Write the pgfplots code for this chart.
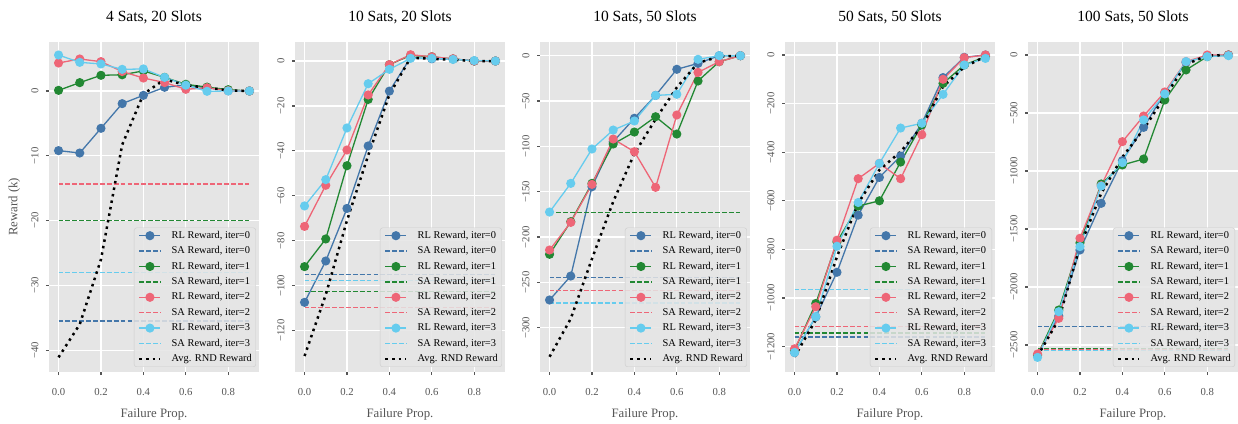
\documentclass[border=0pt]{standalone}
\usepackage{fontspec}
\setmainfont{Liberation Serif}
\usepackage{pgfplots}
\pgfplotsset{compat=1.18}
\definecolor{cA}{HTML}{4477AA}
\definecolor{cB}{HTML}{228833}
\definecolor{cC}{HTML}{EE6677}
\definecolor{cD}{HTML}{66CCEE}
\definecolor{bgc}{HTML}{E5E5E5}
\definecolor{tkc}{HTML}{555555}
\definecolor{lgb}{HTML}{CCCCCC}
\pgfplotsset{
 panel/.style={
  scale only axis, width=210bp, height=330bp,
  anchor=south west,
  xmin=-0.045, xmax=0.945,
  axis background/.style={fill=bgc},
  axis line style={draw=none},
  xmajorgrids, ymajorgrids,
  major grid style={white, line width=1.3bp},
  tick align=outside, major tick length=3bp,
  xtick pos=bottom, ytick pos=left,
  every tick/.style={tkc, line width=1.2bp},
  xtick={0,0.2,0.4,0.6,0.8}, xticklabels={0.0,0.2,0.4,0.6,0.8},
  tick label style={font=\fontsize{10.7bp}{12bp}\selectfont, text=tkc, inner sep=0pt},
  xticklabel shift=13bp,
  yticklabel style={rotate=90, anchor=south},
  yticklabel shift=7.4bp,
  title style={at={(axis description cs:0.5,1)}, anchor=base, yshift=15bp, font=\fontsize{15.5bp}{18bp}\selectfont, inner sep=0pt},
  xlabel={Failure Prop.},
  xlabel style={at={(axis description cs:0.5,0)}, anchor=base, yshift=-45bp, font=\fontsize{12.8bp}{15bp}\selectfont, text=tkc, inner sep=0pt},
  ylabel style={at={(axis description cs:-0.165,0.5)}, anchor=center, font=\fontsize{12.8bp}{15bp}\selectfont, text=tkc, inner sep=0pt},
  legend style={at={(axis description cs:1,0)}, anchor=south east, xshift=-3bp, yshift=5bp,
    fill=bgc, fill opacity=0.85, text opacity=1, draw=lgb, draw opacity=1, rounded corners=2.5bp,
    font=\fontsize{10.4bp}{12bp}\selectfont, inner xsep=4bp, inner ysep=3bp, row sep=5.6bp,
    nodes={inner sep=0pt, text height=7.4bp, text depth=2.4bp},
    /tikz/column 1/.style={column sep=10bp}},
  legend cell align=left,
  legend image code/.code={\draw[mark repeat=2, mark phase=2, fill opacity=1, draw opacity=1, #1] plot coordinates {(0bp,0bp) (10.5bp,0bp) (21bp,0bp)};},
 },
 rl/.style={solid, line width=1.3bp, mark=*, mark size=3.9bp, mark options={solid}},
 sa/.style={line width=1.3bp, dash pattern=on 4.8bp off 2.1bp},
 rnd/.style={black, line width=2.5bp, dash pattern=on 2.5bp off 4.1bp},
}
\begin{document}
\begin{tikzpicture}
\useasboundingbox (0,0) rectangle (1238bp,424bp);
% ---------- Panel 1
\begin{axis}[panel, at={(49bp,52bp)}, title={4 Sats, 20 Slots}, ylabel={Reward (k)},
  ymin=-43.36, ymax=7.56, ytick={-40,-30,-20,-10,0}, yticklabels={−40,−30,−20,−10,0}]
\addplot[rl, cA] coordinates {(0,-9.2)(0.1,-9.57)(0.2,-5.76)(0.3,-1.95)(0.4,-0.67)(0.5,0.57)(0.6,0.93)(0.7,0.5)(0.8,0.05)(0.9,0)};
\addlegendentry{RL Reward, iter=0}
\addplot[sa, cA] coordinates {(0,-35.5)(0.9,-35.5)};
\addlegendentry{SA Reward, iter=0}
\addplot[rl, cB] coordinates {(0,0.1)(0.1,1.29)(0.2,2.42)(0.3,2.5)(0.4,3.1)(0.5,2.1)(0.6,1.03)(0.7,0.6)(0.8,0.2)(0.9,0)};
\addlegendentry{RL Reward, iter=1}
\addplot[sa, cB] coordinates {(0,-20.0)(0.9,-20.0)};
\addlegendentry{SA Reward, iter=1}
\addplot[rl, cC] coordinates {(0,4.32)(0.1,4.94)(0.2,4.53)(0.3,3.0)(0.4,2.0)(0.5,1.3)(0.6,0.26)(0.7,0.5)(0.8,0.05)(0.9,0)};
\addlegendentry{RL Reward, iter=2}
\addplot[sa, cC] coordinates {(0,-14.35)(0.9,-14.35)};
\addlegendentry{SA Reward, iter=2}
\addplot[rl, cD] coordinates {(0,5.55)(0.1,4.42)(0.2,4.17)(0.3,3.34)(0.4,3.4)(0.5,2.1)(0.6,0.9)(0.7,-0.05)(0.8,0)(0.9,0)};
\addlegendentry{RL Reward, iter=3}
\addplot[sa, cD] coordinates {(0,-28.0)(0.9,-28.0)};
\addlegendentry{SA Reward, iter=3}
\addplot[rnd] coordinates {(0,-41.1)(0.1,-36)(0.2,-26)(0.3,-8.3)(0.4,-0.5)(0.5,1.8)(0.6,0.9)(0.7,0.5)(0.8,0.1)(0.9,0)};
\addlegendentry{Avg. RND Reward}
\end{axis}
% ---------- Panel 2
\begin{axis}[panel, at={(295bp,52bp)}, title={10 Sats, 20 Slots},
  ymin=-138.4, ymax=8.46, ytick={-120,-100,-80,-60,-40,-20,0}, yticklabels={−120,−100,−80,−60,−40,−20,0}]
\addplot[rl, cA] coordinates {(0,-107.4)(0.1,-89)(0.2,-65.6)(0.3,-37.8)(0.4,-13.4)(0.5,1.5)(0.6,1.0)(0.7,0.9)(0.8,0)(0.9,0)};
\addlegendentry{RL Reward, iter=0}
\addplot[sa, cA] coordinates {(0,-95)(0.9,-95)};
\addlegendentry{SA Reward, iter=0}
\addplot[rl, cB] coordinates {(0,-91.5)(0.1,-79.2)(0.2,-46.6)(0.3,-17.1)(0.4,-1.6)(0.5,2.5)(0.6,1.9)(0.7,0.9)(0.8,0)(0.9,0)};
\addlegendentry{RL Reward, iter=1}
\addplot[sa, cB] coordinates {(0,-102.7)(0.9,-102.7)};
\addlegendentry{SA Reward, iter=1}
\addplot[rl, cC] coordinates {(0,-73.6)(0.1,-55.3)(0.2,-39.6)(0.3,-15.1)(0.4,-1.6)(0.5,2.8)(0.6,1.9)(0.7,1.0)(0.8,0)(0.9,0)};
\addlegendentry{RL Reward, iter=2}
\addplot[sa, cC] coordinates {(0,-109.8)(0.9,-109.8)};
\addlegendentry{SA Reward, iter=2}
\addplot[rl, cD] coordinates {(0,-64.5)(0.1,-52.8)(0.2,-29.8)(0.3,-10.1)(0.4,-3.7)(0.5,1.2)(0.6,1.2)(0.7,0.7)(0.8,0.2)(0.9,0)};
\addlegendentry{RL Reward, iter=3}
\addplot[sa, cD] coordinates {(0,-97.8)(0.9,-97.8)};
\addlegendentry{SA Reward, iter=3}
\addplot[rnd] coordinates {(0,-131.3)(0.1,-104)(0.2,-71)(0.3,-42)(0.4,-15)(0.5,1.5)(0.6,1)(0.7,0.5)(0.8,0)(0.9,0)};
\addlegendentry{Avg. RND Reward}
\end{axis}
% ---------- Panel 3
\begin{axis}[panel, at={(540bp,52bp)}, title={10 Sats, 50 Slots},
  ymin=-348.8, ymax=15.1, ytick={-300,-250,-200,-150,-100,-50,0}, yticklabels={−300,−250,−200,−150,−100,−50,0}]
\addplot[rl, cA] coordinates {(0,-269.4)(0.1,-243)(0.2,-144.5)(0.3,-94.9)(0.4,-69)(0.5,-43.8)(0.6,-15)(0.7,-8.5)(0.8,0)(0.9,0)};
\addlegendentry{RL Reward, iter=0}
\addplot[sa, cA] coordinates {(0,-244.8)(0.9,-244.8)};
\addlegendentry{SA Reward, iter=0}
\addplot[rl, cB] coordinates {(0,-219)(0.1,-183)(0.2,-140.8)(0.3,-97.4)(0.4,-84.2)(0.5,-67.3)(0.6,-86.4)(0.7,-27.9)(0.8,-6.6)(0.9,0)};
\addlegendentry{RL Reward, iter=1}
\addplot[sa, cB] coordinates {(0,-173)(0.9,-173)};
\addlegendentry{SA Reward, iter=1}
\addplot[rl, cC] coordinates {(0,-214.3)(0.1,-183.8)(0.2,-141.9)(0.3,-91.9)(0.4,-105.9)(0.5,-145.2)(0.6,-65.4)(0.7,-18.4)(0.8,-6.6)(0.9,0)};
\addlegendentry{RL Reward, iter=2}
\addplot[sa, cC] coordinates {(0,-258.8)(0.9,-258.8)};
\addlegendentry{SA Reward, iter=2}
\addplot[rl, cD] coordinates {(0,-172.4)(0.1,-140.8)(0.2,-102.9)(0.3,-82)(0.4,-72)(0.5,-43.8)(0.6,-42.6)(0.7,-4)(0.8,0)(0.9,0)};
\addlegendentry{RL Reward, iter=3}
\addplot[sa, cD] coordinates {(0,-272.8)(0.9,-272.8)};
\addlegendentry{SA Reward, iter=3}
\addplot[rnd] coordinates {(0,-332)(0.1,-290)(0.2,-224)(0.3,-161)(0.4,-108)(0.5,-70)(0.6,-35)(0.7,-8)(0.8,-1)(0.9,0)};
\addlegendentry{Avg. RND Reward}
\end{axis}
% ---------- Panel 4
\begin{axis}[panel, at={(785bp,52bp)}, title={50 Sats, 50 Slots},
  ymin=-1304.5, ymax=53.5, ytick={-1200,-1000,-800,-600,-400,-200,0}, yticklabels={−1200,−1000,−800,−600,−400,−200,0}]
\addplot[rl, cA] coordinates {(0,-1224.5)(0.1,-1077.6)(0.2,-894)(0.3,-659)(0.4,-503.8)(0.5,-416)(0.6,-281)(0.7,-93)(0.8,-9.6)(0.9,0)};
\addlegendentry{RL Reward, iter=0}
\addplot[sa, cA] coordinates {(0,-1160)(0.9,-1160)};
\addlegendentry{SA Reward, iter=0}
\addplot[rl, cB] coordinates {(0,-1215)(0.1,-1022.6)(0.2,-769)(0.3,-621.8)(0.4,-600)(0.5,-440.6)(0.6,-288)(0.7,-116.7)(0.8,-41)(0.9,-7)};
\addlegendentry{RL Reward, iter=1}
\addplot[sa, cB] coordinates {(0,-1143.5)(0.9,-1143.5)};
\addlegendentry{SA Reward, iter=1}
\addplot[rl, cC] coordinates {(0,-1209)(0.1,-1036)(0.2,-762)(0.3,-509)(0.4,-446)(0.5,-509)(0.6,-328)(0.7,-100)(0.8,-11)(0.9,0)};
\addlegendentry{RL Reward, iter=2}
\addplot[sa, cC] coordinates {(0,-1116)(0.9,-1116)};
\addlegendentry{SA Reward, iter=2}
\addplot[rl, cD] coordinates {(0,-1224)(0.1,-1077)(0.2,-787)(0.3,-607)(0.4,-446)(0.5,-300.6)(0.6,-281)(0.7,-162)(0.8,-41)(0.9,-14)};
\addlegendentry{RL Reward, iter=3}
\addplot[sa, cD] coordinates {(0,-965)(0.9,-965)};
\addlegendentry{SA Reward, iter=3}
\addplot[rnd] coordinates {(0,-1242)(0.1,-1090)(0.2,-830)(0.3,-610)(0.4,-473)(0.5,-398)(0.6,-295)(0.7,-130)(0.8,-50)(0.9,-5)};
\addlegendentry{Avg. RND Reward}
\end{axis}
% ---------- Panel 5
\begin{axis}[panel, at={(1028bp,52bp)}, title={100 Sats, 50 Slots},
  ymin=-2733, ymax=112, ytick={-2500,-2000,-1500,-1000,-500,0}, yticklabels={−2500,−2000,−1500,−1000,−500,0}]
\addplot[rl, cA] coordinates {(0,-2587)(0.1,-2250)(0.2,-1681)(0.3,-1279)(0.4,-911)(0.5,-624)(0.6,-325)(0.7,-66)(0.8,-6)(0.9,0)};
\addlegendentry{RL Reward, iter=0}
\addplot[sa, cA] coordinates {(0,-2342)(0.9,-2342)};
\addlegendentry{SA Reward, iter=0}
\addplot[rl, cB] coordinates {(0,-2587)(0.1,-2199)(0.2,-1620)(0.3,-1112)(0.4,-948)(0.5,-897)(0.6,-388)(0.7,-129)(0.8,-14)(0.9,0)};
\addlegendentry{RL Reward, iter=1}
\addplot[sa, cB] coordinates {(0,-2529)(0.9,-2529)};
\addlegendentry{SA Reward, iter=1}
\addplot[rl, cC] coordinates {(0,-2578)(0.1,-2270)(0.2,-1580)(0.3,-1127)(0.4,-747)(0.5,-526)(0.6,-319)(0.7,-57)(0.8,0)(0.9,0)};
\addlegendentry{RL Reward, iter=2}
\addplot[sa, cC] coordinates {(0,-2538)(0.9,-2538)};
\addlegendentry{SA Reward, iter=2}
\addplot[rl, cD] coordinates {(0,-2607)(0.1,-2213)(0.2,-1652)(0.3,-1130)(0.4,-928)(0.5,-560)(0.6,-336)(0.7,-57)(0.8,-14)(0.9,-6)};
\addlegendentry{RL Reward, iter=3}
\addplot[sa, cD] coordinates {(0,-2549)(0.9,-2549)};
\addlegendentry{SA Reward, iter=3}
\addplot[rnd] coordinates {(0,-2595)(0.1,-2280)(0.2,-1650)(0.3,-1193)(0.4,-880)(0.5,-640)(0.6,-360)(0.7,-80)(0.8,-5)(0.9,0)};
\addlegendentry{Avg. RND Reward}
\end{axis}
\end{tikzpicture}
\end{document}
